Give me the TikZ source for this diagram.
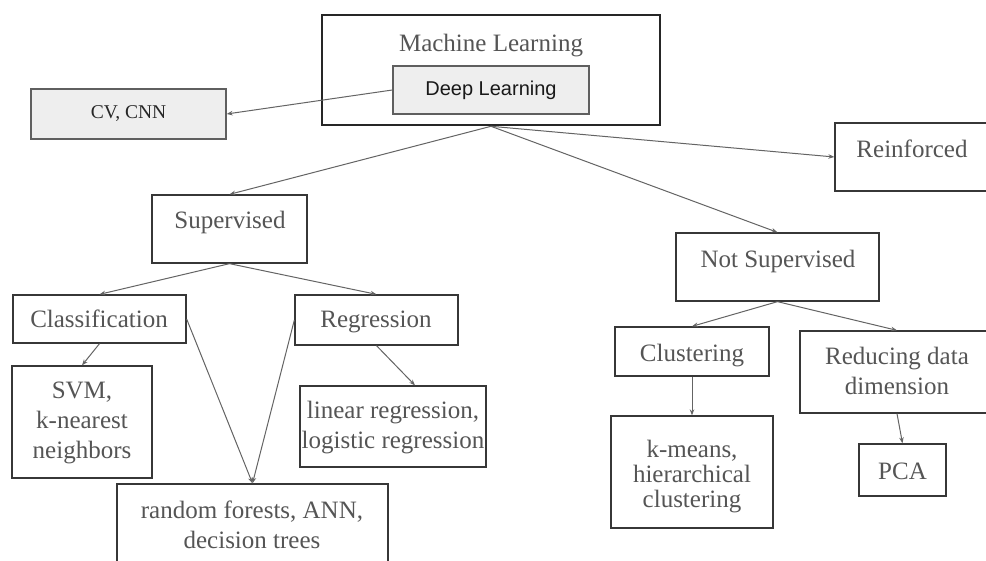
\documentclass[tikz,border=0pt]{standalone}
\usepackage{fontspec}
\setmainfont{Liberation Serif}
\newfontfamily\dlsans{Liberation Sans}
\usetikzlibrary{calc,arrows.meta}
\definecolor{txtgray}{RGB}{85,85,85}
\definecolor{linegray}{RGB}{100,100,100}
\definecolor{boxline}{RGB}{55,55,55}
\definecolor{boxfill}{RGB}{238,238,238}
\begin{document}
\begin{tikzpicture}[x=1pt,y=-1pt,
  box/.style={draw=boxline, line width=1.3pt, rectangle, inner sep=0pt, fill=white},
  gbox/.style={draw=boxline!80, line width=1.3pt, rectangle, inner sep=0pt, fill=boxfill},
  txt/.style={anchor=base, inner sep=0pt, text=txtgray, font=\rmfamily\fontsize{25pt}{30pt}\selectfont},
  arr/.style={draw=linegray, line width=1pt, -{Stealth[length=6pt,width=4.5pt]}}]
\useasboundingbox (0,0) rectangle (986,561);
\fill[white] (0,0) rectangle (986,561);
\clip (0,0) rectangle (986,561);

% boxes
\node[box, line width=2.6pt, draw=black!85, minimum width=338pt, minimum height=110pt] (ml) at (491,70) {};
\node[gbox, minimum width=196pt, minimum height=48pt, font=\dlsans\fontsize{20pt}{23pt}\selectfont, text=black!90] (dl) at (491,90) {Deep Learning};
\node[gbox, minimum width=195pt, minimum height=50pt, font=\rmfamily\fontsize{19.5pt}{22pt}\selectfont, text=black!85] (cv) at (128.5,114) {CV, CNN};
\node[box, minimum width=154pt, minimum height=68pt] (rein) at (912,157) {};
\node[box, minimum width=155pt, minimum height=68pt] (sup) at (229.5,229) {};
\node[box, minimum width=203pt, minimum height=68pt] (ns) at (777.5,267) {};
\node[box, minimum width=173pt, minimum height=48pt] (cls) at (99.5,319) {};
\node[box, minimum width=163pt, minimum height=50pt] (reg) at (376.5,320) {};
\node[box, minimum width=140pt, minimum height=112pt] (svm) at (82,422) {};
\node[box, minimum width=186pt, minimum height=81pt] (lr) at (393,426.5) {};
\node[box, minimum width=271pt, minimum height=96pt] (rf) at (252.5,532) {};
\node[box, minimum width=154pt, minimum height=49pt] (clu) at (692,351.5) {};
\node[box, minimum width=194pt, minimum height=82pt] (red) at (897,372) {};
\node[box, minimum width=162pt, minimum height=112pt] (km) at (692,472) {};
\node[box, minimum width=87pt, minimum height=52pt] (pca) at (902.5,470) {};

% texts
\node[txt] (t-ml) at (491,52) {Machine Learning};
\node[txt] (t-rein) at (912,158) {Reinforced};
\node[txt] (t-sup) at (230,229) {Supervised};
\node[txt] (t-ns) at (778,268) {Not Supervised};
\node[txt] (t-cls) at (99,328) {Classification};
\node[txt] (t-reg) at (376,328) {Regression};
\node[txt] (t-svm) at (82,399) {\begin{tabular}[t]{@{}c@{}}SVM,\\k-nearest\\neighbors\end{tabular}};
\node[txt] (t-lr) at (393,418) {\begin{tabular}[t]{@{}c@{}}linear regression,\\logistic regression\end{tabular}};
\node[txt] (t-rf) at (252,518) {\begin{tabular}[t]{@{}c@{}}random forests, ANN,\\decision trees\end{tabular}};
\node[txt] (t-clu) at (692,362) {Clustering};
\node[txt] (t-red) at (897,365) {\begin{tabular}[t]{@{}c@{}}Reducing data\\dimension\end{tabular}};
\node[txt, font=\rmfamily\fontsize{25pt}{25pt}\selectfont] (t-km) at (692,457) {\begin{tabular}[t]{@{}c@{}}k-means,\\hierarchical\\clustering\end{tabular}};
\node[txt] (t-pca) at (902.5,479) {PCA};

% connectors
\draw[arr] (dl.west) -- (cv.east);
\draw[arr] (ml.south) -- (sup.north);
\draw[arr] (ml.south) -- (ns.north);
\draw[arr] (ml.south) -- (rein.west);
\draw[arr] (sup.south) -- (cls.north);
\draw[arr] (sup.south) -- (reg.north);
\draw[arr] (cls.south) -- (svm.north);
\draw[arr] (reg.south) -- ($(lr.north)+(22,0)$);
\draw[arr] (cls.east) -- (rf.north);
\draw[arr] (reg.west) -- (rf.north);
\draw[arr] (ns.south) -- (clu.north);
\draw[arr] (ns.south) -- (red.north);
\draw[arr] (clu.south) -- (km.north);
\draw[arr] (red.south) -- (pca.north);
\end{tikzpicture}
\end{document}
